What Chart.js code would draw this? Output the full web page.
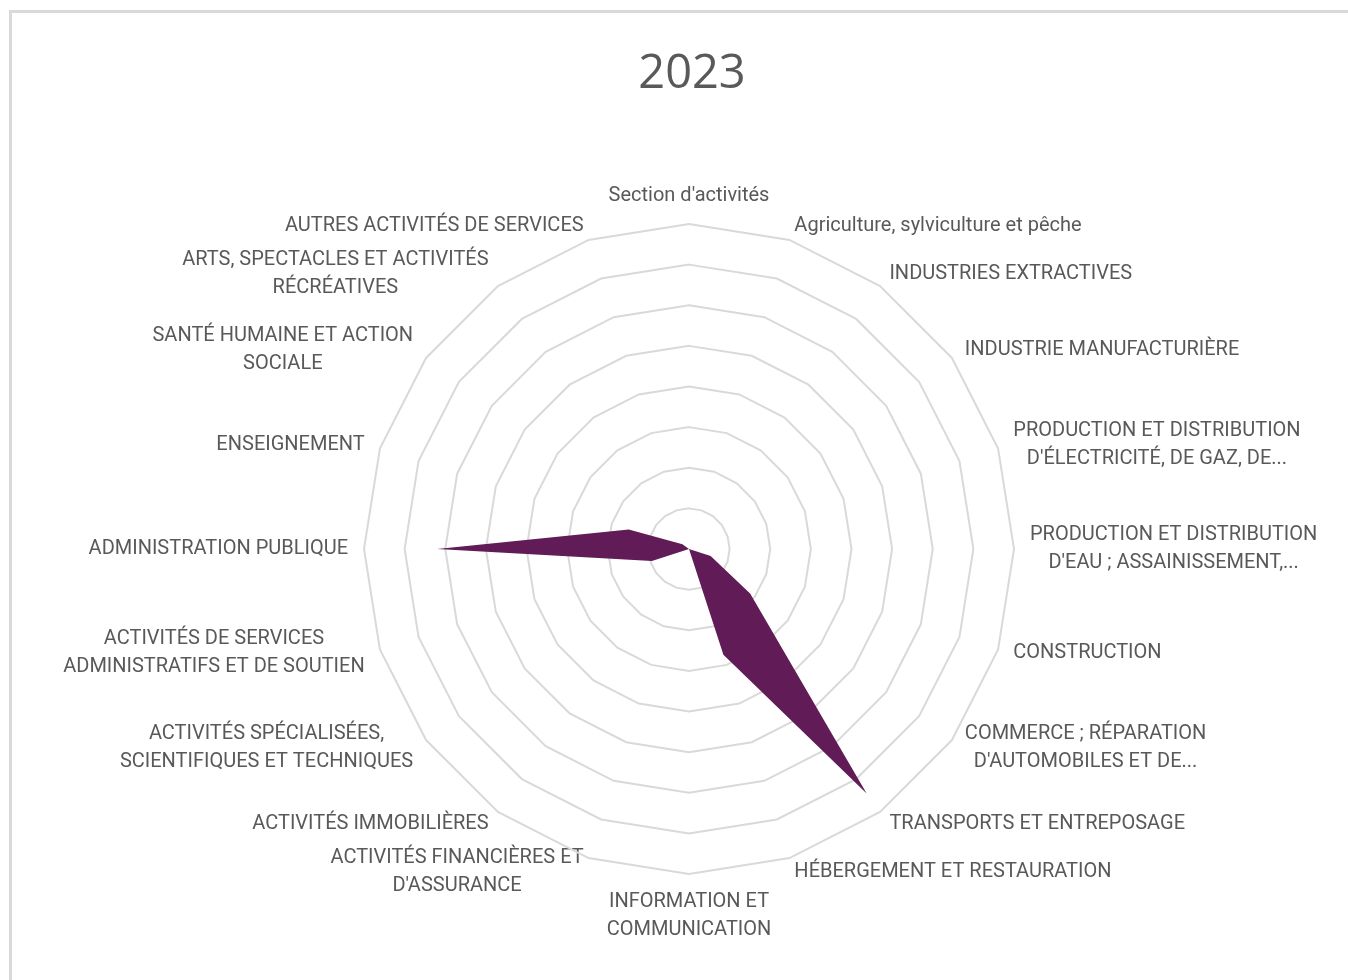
<!DOCTYPE html>
<html lang="fr">
<head>
<meta charset="utf-8">
<title>2023</title>
<script src="https://cdn.jsdelivr.net/npm/chart.js@4.4.1/dist/chart.umd.min.js"></script>
<style>
  html, body { margin: 0; padding: 0; background: #ffffff; overflow: hidden; }
  .frame {
    position: absolute; left: 9px; top: 10px; width: 1400px; height: 1000px;
    border-top: 3px solid #d9d9d9; border-left: 3px solid #d9d9d9;
  }
  .chart-box { position: absolute; left: 13px; top: 13px; width: 1358px; height: 967px; }
</style>
</head>
<body>
<div class="frame"></div>
<div class="chart-box"><canvas id="chart"></canvas></div>
<script>
const chartTitle = '2023';

// Sections d'activités (libellés tels qu'affichés, tronqués comme dans Excel)
const sectionLabels = [
  "Section d'activités",
  'Agriculture, sylviculture et pêche',
  'INDUSTRIES EXTRACTIVES',
  'INDUSTRIE MANUFACTURIÈRE',
  ['PRODUCTION ET DISTRIBUTION', "D'ÉLECTRICITÉ, DE GAZ, DE..."],
  ['PRODUCTION ET DISTRIBUTION', "D'EAU ; ASSAINISSEMENT,..."],
  'CONSTRUCTION',
  ['COMMERCE ; RÉPARATION', "D'AUTOMOBILES ET DE..."],
  'TRANSPORTS ET ENTREPOSAGE',
  'HÉBERGEMENT ET RESTAURATION',
  ['INFORMATION ET', 'COMMUNICATION'],
  ['ACTIVITÉS FINANCIÈRES ET', "D'ASSURANCE"],
  'ACTIVITÉS IMMOBILIÈRES',
  ['ACTIVITÉS SPÉCIALISÉES,', 'SCIENTIFIQUES ET TECHNIQUES'],
  ['ACTIVITÉS DE SERVICES', 'ADMINISTRATIFS ET DE SOUTIEN'],
  'ADMINISTRATION PUBLIQUE',
  'ENSEIGNEMENT',
  ['SANTÉ HUMAINE ET ACTION', 'SOCIALE'],
  ['ARTS, SPECTACLES ET ACTIVITÉS', 'RÉCRÉATIVES'],
  'AUTRES ACTIVITÉS DE SERVICES'
];

// valeurs 2023
const values2023 = [0, 0, 0, 1.1, 0, 0, 2.8, 9.3, 37.2, 13.7, 0, 0, 4.6, 0, 4.8, 31, 7.8, 1.0, 0, 0];

const scaleMax = 40;
const scaleStep = 5;

// Excel centre les libellés sur leur rayon et centre les lignes entre elles
const excelLikeLabels = {
  id: 'excelLikeLabels',
  afterLayout(chart) {
    const scale = chart.scales.r;
    const items = scale._pointLabelItems || [];
    items.forEach((item, i) => {
      const h = item.bottom - item.top;
      const angle = Math.round(scale.getIndexAngle(i) * 180 / Math.PI) % 360;
      let dy = 0;
      if (angle === 0) {
        dy = 2;
      } else if (angle === 180) {
        dy = -2;
      } else if (angle < 90 || angle > 270) {
        dy = h / 2 + 1;
      } else if (angle > 90 && angle < 270) {
        dy = -(h / 2 + 1);
      }
      item.y += dy;
      item.top += dy;
      item.bottom += dy;
      item.x = (item.left + item.right) / 2;
      item.textAlign = 'center';
    });
  }
};

const ctx = document.getElementById('chart');

new Chart(ctx, {
  type: 'radar',
  data: {
    labels: sectionLabels,
    datasets: [{
      label: chartTitle,
      data: values2023,
      backgroundColor: '#611b56',
      borderColor: '#611b56',
      borderWidth: 0,
      fill: true,
      pointRadius: 0,
      pointHoverRadius: 0,
      tension: 0,
    }]
  },
  options: {
    responsive: true,
    maintainAspectRatio: false,
    animation: false,
    layout: {
      padding: { left: 0, right: 0, top: 0, bottom: 20 }
    },
    scales: {
      r: {
        min: 0,
        max: scaleMax,
        beginAtZero: true,
        ticks: {
          display: false,
          stepSize: scaleStep,
        },
        grid: {
          color: '#d9d9d9',
          lineWidth: 2,
        },
        angleLines: {
          display: false,
        },
        pointLabels: {
          color: '#595959',
          padding: 16,
          font: {
            family: 'Roboto',
            size: 20,
            lineHeight: 1.4,
          }
        }
      }
    },
    plugins: {
      legend: {
        display: false,
      },
      tooltip: {
        enabled: false
      },
      title: {
        display: true,
        text: chartTitle,
        color: '#595959',
        padding: { top: 33, bottom: 64 },
        font: {
          family: 'Open Sans',
          size: 47,
          weight: 'normal',
          lineHeight: 1.2,
        }
      }
    }
  },
  plugins: [excelLikeLabels]
});
</script>
</body>
</html>
